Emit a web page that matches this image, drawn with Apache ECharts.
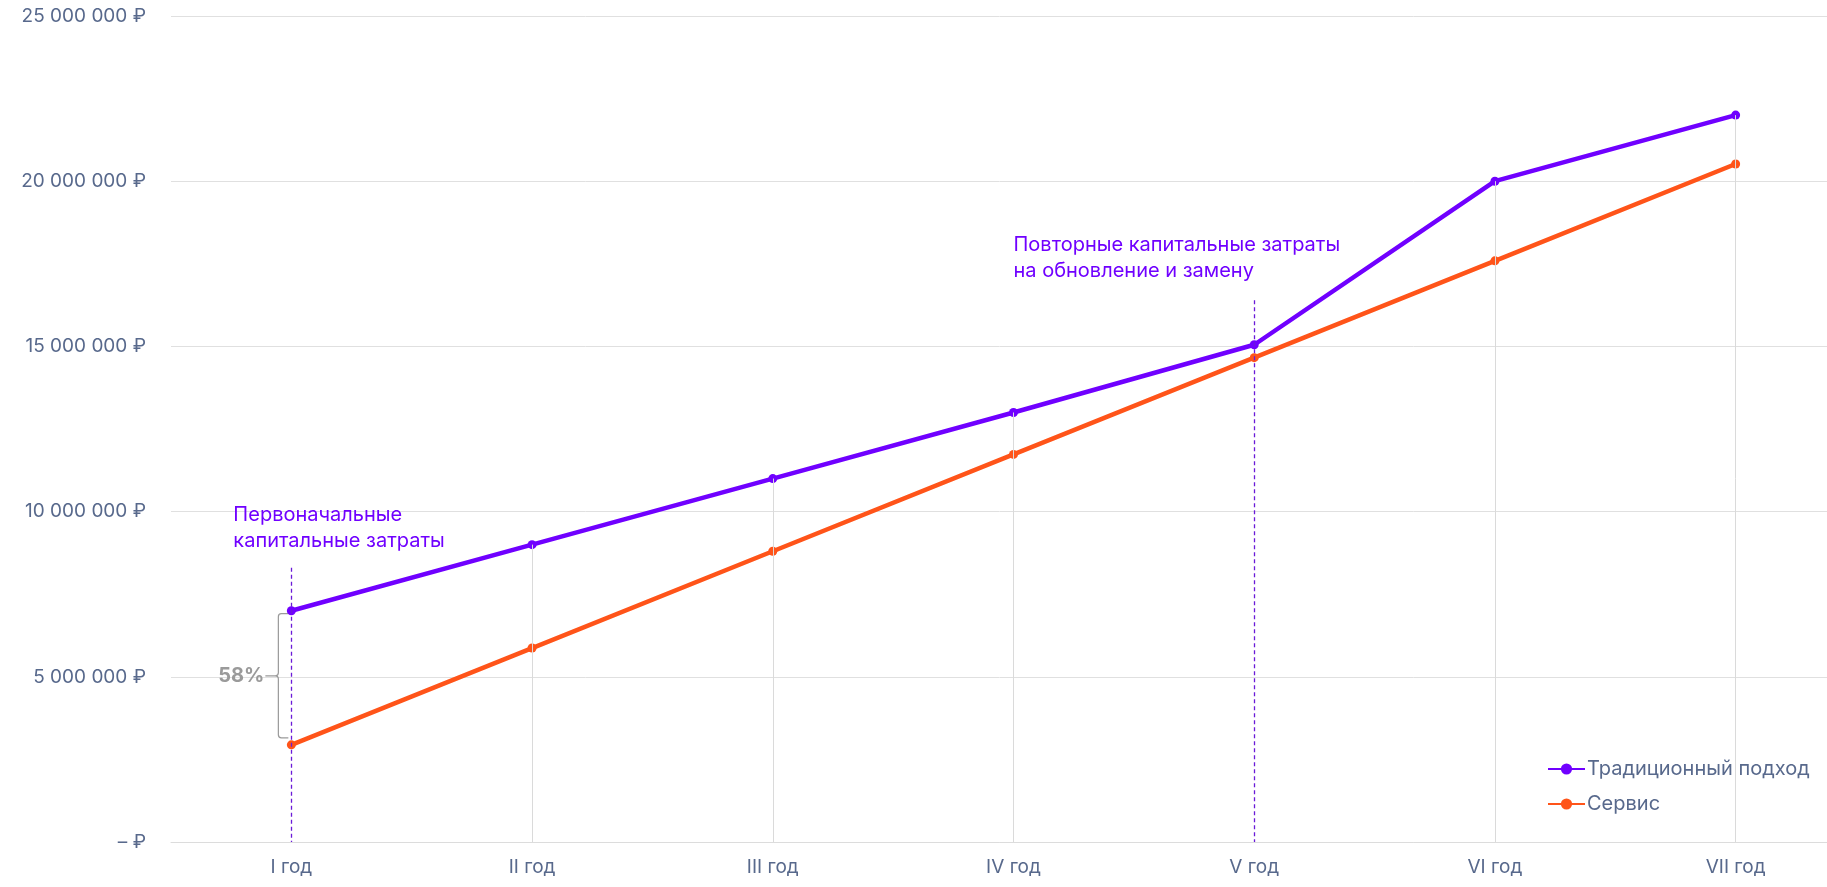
<!DOCTYPE html>
<html>
<head>
<meta charset="utf-8">
<script src="https://cdn.jsdelivr.net/npm/echarts@6/dist/echarts.min.js"></script>
<style>
  html, body { margin: 0; padding: 0; background: #fff; }
  #chart { width: 1827px; height: 887px; }
</style>
</head>
<body>
<div id="chart"></div>
<script>
// categories and values
const years = ["I год", "II год", "III год", "IV год", "V год", "VI год", "VII год"];
const traditional = [7000000, 9000000, 11000000, 13000000, 15050000, 20000000, 22000000];
const service = [2940000, 5870000, 8800000, 11730000, 14660000, 17590000, 20520000];

// marked years (dashed drop lines) and how high the dashed line goes
const markedYears = [0, 4];
const markedTop = [8300000, 16400000];

// annotations: category index, value of the text top, lines
const noteCat = [0, 3];
const noteVal = [10280000, 18450000];
const noteText = [
  "Первоначальные\nкапитальные затраты",
  "Повторные капитальные затраты\nна обновление и замену"
];

const PURPLE = "#7000ff";
const DASH = "#6a1ad8";
const ORANGE = "#ff5419";
const SLATE = "#58698c";
const FONT = "Inter";

function money(v) {
  if (v === 0) return "– ₽";
  return String(v).replace(/\B(?=(\d{3})+(?!\d))/g, " ") + " ₽";
}

const dropLines = years.map((y, i) => {
  const k = markedYears.indexOf(i);
  if (k >= 0) {
    return [
      { coord: [i, markedTop[k]], lineStyle: { color: DASH, type: [4, 3], width: 1.3 } },
      { coord: [i, 0] }
    ];
  }
  return [{ coord: [i, traditional[i]] }, { coord: [i, 0] }];
});

const pct = Math.round((traditional[0] - service[0]) / traditional[0] * 100) + "%";

const chart = echarts.init(document.getElementById("chart"));

const option = {
  animation: false,
  textStyle: { fontFamily: FONT },
  grid: { left: 171, width: 1685, top: 16, bottom: 45, outerBoundsMode: "none" },
  legend: {
    data: ["Традиционный подход", "Сервис"],
    orient: "vertical",
    left: 1542,
    top: 754,
    itemWidth: 37,
    itemHeight: 14,
    itemGap: 15,
    textStyle: { color: SLATE, fontSize: 20, fontFamily: FONT, padding: [0, 0, 0, -3] }
  },
  xAxis: {
    type: "category",
    data: years,
    axisLine: { lineStyle: { color: "#dcdcdc" } },
    axisTick: { show: false },
    axisLabel: { color: SLATE, fontSize: 19, margin: 16, fontFamily: FONT }
  },
  yAxis: {
    type: "value",
    min: 0,
    max: 25000000,
    interval: 5000000,
    axisLine: { show: false },
    axisTick: { show: false },
    splitLine: { lineStyle: { color: "#e0e0e0" } },
    axisLabel: { color: SLATE, fontSize: 19, margin: 25, fontFamily: FONT, formatter: money }
  },
  series: [
    {
      name: "drops",
      type: "line",
      data: [],
      z: 1,
      silent: true,
      markLine: {
        silent: true,
        symbol: "none",
        label: { show: false },
        lineStyle: { color: "#dadada", type: "solid", width: 1 },
        data: dropLines
      }
    },
    {
      name: "Традиционный подход",
      type: "line",
      data: traditional,
      z: 3,
      color: PURPLE,
      symbol: "circle",
      symbolSize: 9,
      lineStyle: { width: 4.5 }
    },
    {
      name: "Сервис",
      type: "line",
      data: service,
      z: 3,
      color: ORANGE,
      symbol: "circle",
      symbolSize: 9,
      lineStyle: { width: 4.5 }
    },
    {
      name: "brace",
      type: "custom",
      coordinateSystem: "cartesian2d",
      silent: true,
      z: 2,
      data: [[0, traditional[0], service[0]]],
      renderItem: function (params, api) {
        const top = api.coord([api.value(0), api.value(1)]);
        const bot = api.coord([api.value(0), api.value(2)]);
        const x0 = top[0] - 13;
        const y1 = top[1] + 3;
        const y2 = bot[1] - 7;
        const ym = (y1 + y2) / 2;
        const d = "M" + (x0 + 10) + " " + y1 + " L" + (x0 + 3) + " " + y1 +
          " Q" + x0 + " " + y1 + " " + x0 + " " + (y1 + 3) +
          " L" + x0 + " " + (ym - 3) +
          " Q" + x0 + " " + ym + " " + (x0 - 3) + " " + ym +
          " L" + (x0 - 13) + " " + ym +
          " M" + (x0 - 3) + " " + ym +
          " Q" + x0 + " " + ym + " " + x0 + " " + (ym + 3) +
          " L" + x0 + " " + (y2 - 3) +
          " Q" + x0 + " " + y2 + " " + (x0 + 3) + " " + y2 +
          " L" + (x0 + 10) + " " + y2;
        return {
          type: "group",
          children: [
            {
              type: "path",
              shape: { pathData: d },
              style: { fill: "none", stroke: "#9a9a9a", lineWidth: 1.2 }
            },
            {
              type: "text",
              x: x0 - 14,
              y: ym,
              style: {
                text: pct,
                align: "right",
                verticalAlign: "middle",
                fill: "#9a9a9a",
                font: "bold 20px " + FONT
              }
            }
          ]
        };
      }
    }
  ]
};

chart.setOption(option);

// annotation texts anchored to data positions
const notes = noteText.map((t, i) => {
  const p = chart.convertToPixel({ gridIndex: 0 }, [noteCat[i], noteVal[i]]);
  return {
    type: "text",
    x: i === 0 ? p[0] - 58 : p[0],
    y: p[1],
    style: {
      text: t,
      fill: PURPLE,
      font: "20px " + FONT,
      lineHeight: 26,
      verticalAlign: "top"
    }
  };
});
chart.setOption({ graphic: notes });
</script>
</body>
</html>
